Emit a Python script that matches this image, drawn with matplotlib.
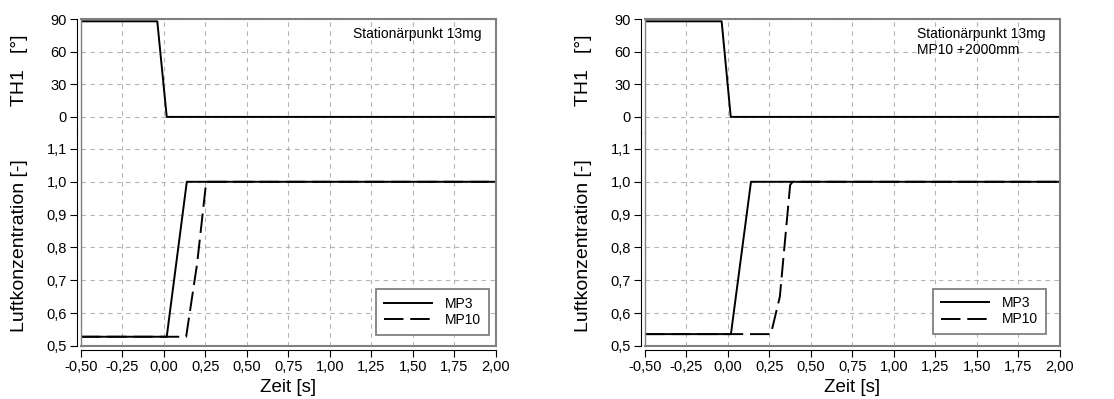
import matplotlib
matplotlib.use("Agg")
import matplotlib.pyplot as plt

plt.rcParams['font.family'] = ['Liberation Sans', 'DejaVu Sans']

# --- Daten ---
# linkes Diagramm
th1_t_a = [-0.50, -0.04, 0.017, 2.00]
th1_v_a = [88, 88, 0, 0]
mp3_t_a = [-0.50, 0.017, 0.138, 2.00]
mp3_v_a = [0.528, 0.528, 1.0, 1.0]
mp10_t_a = [-0.50, 0.134, 0.20, 0.255, 2.00]
mp10_v_a = [0.528, 0.528, 0.75, 1.0, 1.0]

# rechtes Diagramm
th1_t_b = [-0.50, -0.038, 0.017, 2.00]
th1_v_b = [88, 88, 0, 0]
mp3_t_b = [-0.50, 0.018, 0.139, 2.00]
mp3_v_b = [0.536, 0.536, 1.0, 1.0]
mp10_t_b = [-0.50, 0.259, 0.313, 0.375, 0.39, 2.00]
mp10_v_b = [0.536, 0.536, 0.65, 0.99, 1.0, 1.0]

x_ticks = [-0.5, -0.25, 0.0, 0.25, 0.5, 0.75, 1.0, 1.25, 1.5, 1.75, 2.0]
x_labels = ['-0,50', '-0,25', '0,00', '0,25', '0,50', '0,75', '1,00', '1,25', '1,50', '1,75', '2,00']
th_ticks = [0, 30, 60, 90]
th_labels = ['0', '30', '60', '90']
c_ticks = [0.5, 0.6, 0.7, 0.8, 0.9, 1.0, 1.1]
c_labels = ['0,5', '0,6', '0,7', '0,8', '0,9', '1,0', '1,1']

notes = ['Stationärpunkt 13mg', 'Stationärpunkt 13mg\nMP10 +2000mm']

fig = plt.figure(figsize=(11.14, 3.99), dpi=100)

frame_col = '#808080'
grid_kw = dict(color='#b4b4b4', linestyle=(0, (4, 4)), linewidth=0.8)
lw = 1.4


def draw_panel(left, th_t, th_v, m3_t, m3_v, m10_t, m10_v, note, leg_anchor):
    w = 0.3722
    ax_top = fig.add_axes([left, 0.667, w, 0.952 - 0.667])
    ax_bot = fig.add_axes([left, 0.133, w, 0.667 - 0.133])

    # oberer Teil: TH1
    ax_top.plot(th_t, th_v, color='black', linewidth=lw)
    ax_top.set_xlim(-0.5, 2.0)
    ax_top.set_ylim(-14.7, 90)
    ax_top.set_yticks(th_ticks)
    ax_top.set_yticklabels(th_labels)
    ax_top.set_xticks(x_ticks)
    ax_top.tick_params(axis='x', bottom=False, labelbottom=False)
    ax_top.spines['bottom'].set_visible(False)
    ax_top.set_ylabel('TH1   [°]', fontsize=14)
    ax_top.yaxis.set_label_coords(-0.127, 0.55)
    ax_top.text(0.655, 0.93, note, transform=ax_top.transAxes, ha='left', va='top',
                fontsize=10, linespacing=1.2)

    # unterer Teil: Luftkonzentration
    ax_bot.plot(m3_t, m3_v, color='black', linewidth=lw, label='MP3')
    ax_bot.plot(m10_t, m10_v, color='black', linewidth=lw, dashes=(10, 3.5), label='MP10')
    ax_bot.set_xlim(-0.5, 2.0)
    ax_bot.set_ylim(0.5, 1.149)
    ax_bot.set_yticks(c_ticks)
    ax_bot.set_yticklabels(c_labels)
    ax_bot.set_xticks(x_ticks)
    ax_bot.set_xticklabels(x_labels)
    ax_bot.spines['top'].set_visible(False)
    ax_bot.spines['bottom'].set_position(('outward', 3))
    ax_bot.axhline(0.5, color=frame_col, linewidth=1.5, clip_on=False)
    ax_bot.set_ylabel('Luftkonzentration [-]', fontsize=14)
    ax_bot.yaxis.set_label_coords(-0.127, 0.47)
    ax_bot.set_xlabel('Zeit [s]', fontsize=13.5, labelpad=4)
    leg = ax_bot.legend(loc='lower right', bbox_to_anchor=leg_anchor, borderaxespad=0,
                        fontsize=10, fancybox=False, framealpha=1, edgecolor=frame_col,
                        handlelength=3.5, handletextpad=0.9, borderpad=0.55,
                        labelspacing=0.15)
    leg.get_frame().set_linewidth(1.3)

    for ax in (ax_top, ax_bot):
        ax.grid(True, **grid_kw)
        ax.set_axisbelow(True)
        ax.tick_params(direction='out', length=5, labelsize=10.5, colors='black', pad=2)
        for s in ('top', 'right'):
            ax.spines[s].set_color(frame_col)
            ax.spines[s].set_linewidth(1.5)
        ax.spines['left'].set_color('black')
        ax.spines['left'].set_position(('outward', 3))
        ax.spines['bottom'].set_color('black')
        ax.axvline(-0.5, color=frame_col, linewidth=1.0, clip_on=False)


draw_panel(0.0727, th1_t_a, th1_v_a, mp3_t_a, mp3_v_a, mp10_t_a, mp10_v_a, notes[0], (0.983, 0.052))
draw_panel(0.579, th1_t_b, th1_v_b, mp3_t_b, mp3_v_b, mp10_t_b, mp10_v_b, notes[1], (0.966, 0.056))

fig.savefig('out.png', dpi=100)
